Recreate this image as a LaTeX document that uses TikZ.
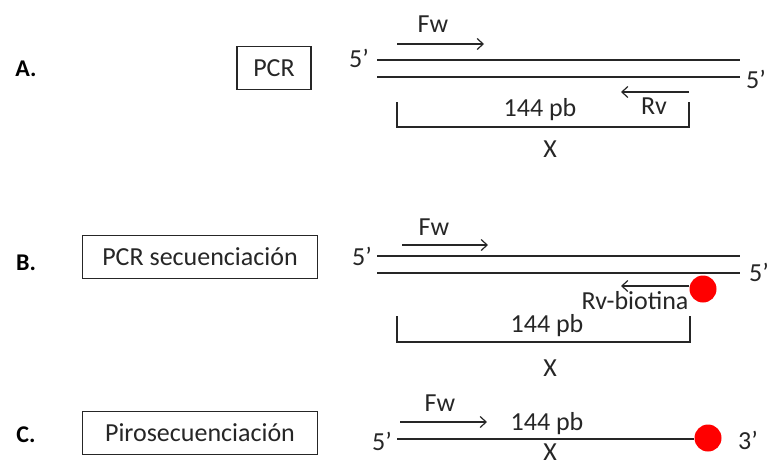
\documentclass[tikz,border=0pt]{standalone}
\usepackage{fontspec}
\setmainfont{Carlito}
\usetikzlibrary{arrows.meta}
\definecolor{ink}{HTML}{262626}
\definecolor{txtc}{HTML}{262626}
\begin{document}
\begin{tikzpicture}[x=1pt,y=-1pt,
  txt/.style={font=\fontsize{26}{30}\selectfont, text=txtc, inner sep=0pt},
  lbl/.style={font=\bfseries\fontsize{24}{28}\selectfont, text=black, inner sep=0pt},
  box/.style={draw=ink, line width=1.3pt, txt, minimum height=43pt, inner sep=0pt},
  strand/.style={draw=ink, line width=1.5pt},
  primer/.style={draw=ink, line width=1.2pt, -{Straight Barb[length=6pt,width=11pt,line width=1.2pt]}},
  bracket/.style={draw=ink, line width=1.3pt},
  bio/.style={circle, fill=red, minimum size=27pt, inner sep=0pt}
]
\useasboundingbox (0,0) rectangle (769,464);

% ---------- A ----------
\node[lbl] (la) at (26,69) {A.};
\node[box, minimum width=74pt] (pcrA) at (274,68) {PCR};
\node[txt] (a5l) at (359,58) {5’};
\node[txt] (a5r) at (756,79) {5’};
\coordinate (a1s) at (377,60); \coordinate (a1e) at (740,60);
\coordinate (a2s) at (377,77); \coordinate (a2e) at (740,77);
\draw[strand] (a1s) -- (a1e);
\draw[strand] (a2s) -- (a2e);
\coordinate (afw1) at (397,44); \coordinate (afw2) at (484,44);
\draw[primer] (afw1) -- (afw2);
\node[txt] (afw) at (433,24) {Fw};
\coordinate (arv1) at (689,92); \coordinate (arv2) at (621,92);
\draw[primer] (arv1) -- (arv2);
\node[txt] (arv) at (654,106) {Rv};
\coordinate (ab1) at (397,102); \coordinate (ab2) at (397,127);
\coordinate (ab3) at (689,127); \coordinate (ab4) at (689,102);
\draw[bracket] (ab1) -- (ab2) -- (ab3) -- (ab4);
\node[txt] (apb) at (540,110) {144 pb};
\node[txt] (ax) at (550,149) {X};

% ---------- B ----------
\node[lbl] (lb) at (26,263) {B.};
\node[box, minimum width=235pt] (pcrB) at (200,257) {PCR secuenciación};
\node[txt] (b5l) at (362,256) {5’};
\node[txt] (b5r) at (759,272) {5’};
\coordinate (b1s) at (377,256); \coordinate (b1e) at (740,256);
\coordinate (b2s) at (377,273); \coordinate (b2e) at (740,273);
\draw[strand] (b1s) -- (b1e);
\draw[strand] (b2s) -- (b2e);
\coordinate (bfw1) at (402,245); \coordinate (bfw2) at (488,245);
\draw[primer] (bfw1) -- (bfw2);
\node[txt] (bfw) at (434,227) {Fw};
\node[bio] (bbio) at (703,289) {};
\coordinate (brv2) at (621,286);
\draw[primer] (bbio.west |- brv2) -- (brv2);
\node[txt] (brv) at (635,301) {Rv-biotina};
\coordinate (bb1) at (397,316); \coordinate (bb2) at (397,342);
\coordinate (bb3) at (690,342); \coordinate (bb4) at (690,316);
\draw[bracket] (bb1) -- (bb2) -- (bb3) -- (bb4);
\node[txt] (bpb) at (547,326) {144 pb};
\node[txt] (bx) at (550,368) {X};

% ---------- C ----------
\node[lbl] (lc) at (26,435) {C.};
\node[box, minimum width=235pt] (piro) at (200,433) {Pirosecuenciación};
\node[txt] (c5l) at (382,441) {5’};
\node[bio] (cbio) at (708,438) {};
\node[txt] (c3r) at (748,440) {3’};
\coordinate (c1s) at (397,439);
\draw[strand] (c1s) -- (cbio.west |- c1s);
\coordinate (cfw1) at (400,422); \coordinate (cfw2) at (487,422);
\draw[primer] (cfw1) -- (cfw2);
\node[txt] (cfw) at (440,403) {Fw};
\node[txt] (cpb) at (547,424) {144 pb};
\node[txt] (cx) at (550,452) {X};
\end{tikzpicture}
\end{document}
